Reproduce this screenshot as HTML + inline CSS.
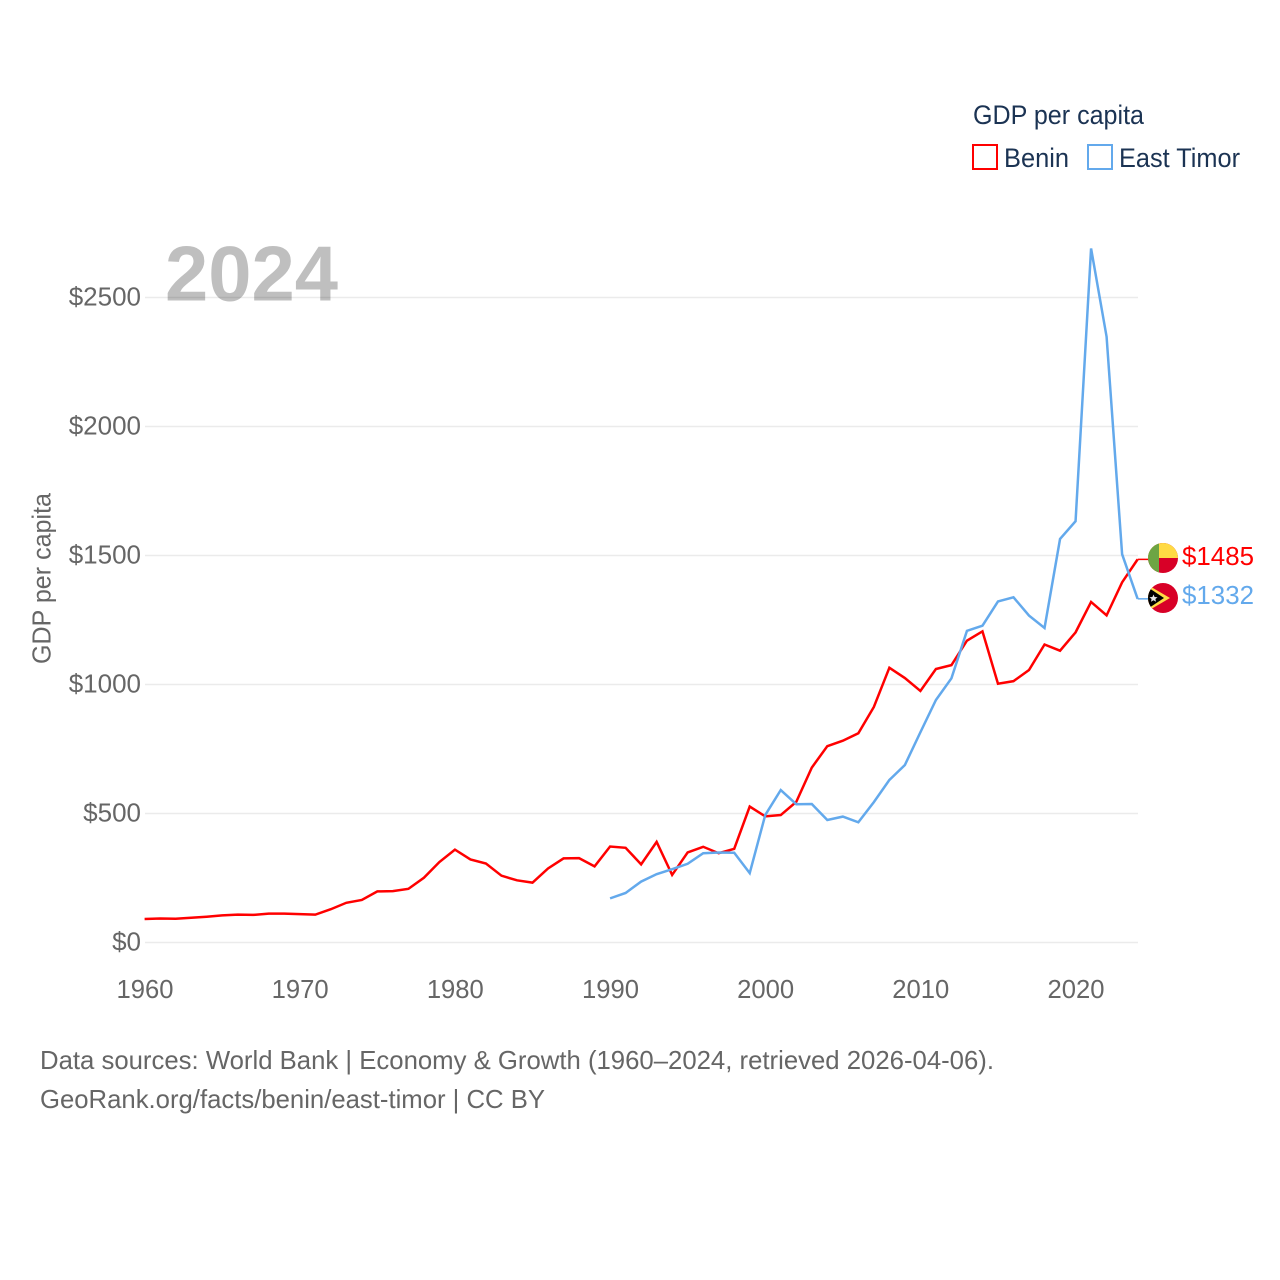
<!DOCTYPE html>
<html lang="en">
<head>
<meta charset="utf-8">
<title>GDP per capita: Benin and East Timor</title>
<style>
  html, body { margin: 0; padding: 0; background: #ffffff; }
  svg { display: block; font-family: "Liberation Sans", sans-serif; }
  .tick { font-size: 26px; fill: #666666; }
  .foot { font-size: 26px; fill: #666666; }
  .leg { font-size: 27px; fill: #1b3353; }
</style>
</head>
<body>
<svg id="chart" width="1280" height="1280" viewBox="0 0 1280 1280" xmlns="http://www.w3.org/2000/svg">
  <defs>
    <clipPath id="benin-clip"><circle cx="1163" cy="558" r="15"></circle></clipPath>
    <clipPath id="timor-clip"><circle cx="1163" cy="598" r="15"></circle></clipPath>
  </defs>

  <text x="165" y="300.5" font-size="78" font-weight="700" fill="#bfbfbf" textLength="173" lengthAdjust="spacingAndGlyphs">2024</text>

  <g id="grid"></g>
  <g id="y-ticks"></g>
  <g id="x-ticks"></g>

  <text class="tick" transform="translate(50.5,664) rotate(-90)" textLength="171" lengthAdjust="spacingAndGlyphs">GDP per capita</text>

  <g id="series"></g>

  <g>
    <text class="leg" x="973" y="124" textLength="171" lengthAdjust="spacingAndGlyphs">GDP per capita</text>
    <g>
      <rect x="973" y="145" width="24" height="24" fill="none" stroke="#ff0000" stroke-width="2"></rect>
      <text class="leg" x="1004" y="167" textLength="65" lengthAdjust="spacingAndGlyphs">Benin</text>
    </g>
    <g>
      <rect x="1088" y="145" width="24" height="24" fill="none" stroke="#63a9ec" stroke-width="2"></rect>
      <text class="leg" x="1119" y="167" textLength="121" lengthAdjust="spacingAndGlyphs">East Timor</text>
    </g>
  </g>

  <g clip-path="url(#benin-clip)">
    <rect x="1148" y="543" width="30" height="30" fill="#d80027"></rect>
    <rect x="1148" y="543" width="30" height="15" fill="#ffda44"></rect>
    <rect x="1148" y="543" width="11" height="30" fill="#6da544"></rect>
  </g>
  <g clip-path="url(#timor-clip)">
    <rect x="1148" y="583" width="30" height="30" fill="#d80027"></rect>
    <polygon points="1146,584 1170,598 1146,612" fill="#ffda44"></polygon>
    <polygon points="1146,586 1164,598 1146,610" fill="#000000"></polygon>
    <polygon points="1153.5,594.5 1154.6,597 1157.6,597.3 1155.4,599 1156,601.8 1153.5,600.3 1151,601.8 1151.6,599 1149.4,597.3 1152.4,597" fill="#e6e6e6"></polygon>
  </g>

  <text id="label-benin" font-size="26" fill="#ff0000" x="1182" y="565" textLength="72" lengthAdjust="spacingAndGlyphs"></text>
  <text id="label-timor" font-size="26" fill="#63a9ec" x="1182" y="604" textLength="72" lengthAdjust="spacingAndGlyphs"></text>

  <text class="foot" x="40" y="1069" textLength="954" lengthAdjust="spacingAndGlyphs">Data sources: World Bank | Economy &amp; Growth (1960–2024, retrieved 2026-04-06).</text>
  <text class="foot" x="40" y="1108" textLength="505" lengthAdjust="spacingAndGlyphs">GeoRank.org/facts/benin/east-timor | CC BY</text>
</svg>

<script>
const yTicks = [0, 500, 1000, 1500, 2000, 2500];
const xTicks = [1960, 1970, 1980, 1990, 2000, 2010, 2020];
const beninStartYear = 1960;
const timorStartYear = 1990;
const beninValues = [91, 93, 92, 96, 100, 105, 108, 107, 112, 112, 110, 108, 129, 154, 165, 198, 199, 208, 251, 312, 360, 322, 306, 259, 241, 232, 287, 326, 327, 295, 372, 367, 303, 390, 262, 349, 371, 346, 363, 527, 489, 494, 545, 678, 761, 782, 811, 913, 1065, 1025, 975, 1060, 1075, 1170, 1206, 1003, 1013, 1056, 1155, 1131, 1202, 1320, 1268, 1396, 1485];
const timorValues = [171, 192, 236, 265, 284, 305, 346, 349, 348, 269, 494, 591, 536, 537, 475, 488, 466, 544, 630, 688, 815, 940, 1024, 1208, 1228, 1322, 1338, 1267, 1219, 1564, 1633, 2690, 2348, 1505, 1332];

function xPos(year) { return 144.6 + (year - 1960) * 15.516; }
function yPos(value) { return 942.5 - value * 0.258; }

const NS = 'http://www.w3.org/2000/svg';
const grid = document.getElementById('grid');
const yGroup = document.getElementById('y-ticks');
const xGroup = document.getElementById('x-ticks');
const seriesGroup = document.getElementById('series');

yTicks.forEach(function (v) {
  const line = document.createElementNS(NS, 'line');
  
  
  line.setAttribute('x1', 145);
  line.setAttribute('x2', 1138);
  line.setAttribute('y1', yPos(v));
  line.setAttribute('y2', yPos(v));
  line.setAttribute('stroke', '#000000');
  line.setAttribute('stroke-opacity', '0.08');
  line.setAttribute('stroke-width', '1.5');
  grid.appendChild(line);

  const label = document.createElementNS(NS, 'text');
  
  
  label.setAttribute('class', 'tick');
  label.setAttribute('x', 141);
  label.setAttribute('y', yPos(v) + 8);
  label.setAttribute('text-anchor', 'end');
  label.textContent = '$' + v;
  yGroup.appendChild(label);
});

xTicks.forEach(function (t) {
  const label = document.createElementNS(NS, 'text');
  
  
  label.setAttribute('class', 'tick');
  label.setAttribute('x', xPos(t) + 0.4);
  label.setAttribute('y', 998);
  label.setAttribute('text-anchor', 'middle');
  label.setAttribute('textLength', '57');
  label.setAttribute('lengthAdjust', 'spacingAndGlyphs');
  label.textContent = t;
  xGroup.appendChild(label);
});

function drawSeries(values, startYear, color) {
  const pts = values.map(function (v, i) {
    return xPos(startYear + i).toFixed(2) + ',' + yPos(v).toFixed(2);
  }).join(' ');
  const line = document.createElementNS(NS, 'polyline');
  
  
  line.setAttribute('points', pts);
  line.setAttribute('fill', 'none');
  line.setAttribute('stroke', color);
  line.setAttribute('stroke-width', '2.5');
  line.setAttribute('stroke-linejoin', 'miter');
  seriesGroup.appendChild(line);

  const last = values[values.length - 1];
  const connector = document.createElementNS(NS, 'line');
  
  
  connector.setAttribute('x1', xPos(startYear + values.length - 1));
  connector.setAttribute('x2', 1148);
  connector.setAttribute('y1', yPos(last));
  connector.setAttribute('y2', yPos(last));
  connector.setAttribute('stroke', color);
  connector.setAttribute('stroke-width', '1.5');
  seriesGroup.appendChild(connector);
}

drawSeries(beninValues, beninStartYear, '#ff0000');
drawSeries(timorValues, timorStartYear, '#63a9ec');

document.getElementById('label-benin').textContent = '$' + beninValues[beninValues.length - 1];
document.getElementById('label-timor').textContent = '$' + timorValues[timorValues.length - 1];
</script>
</body>
</html>
